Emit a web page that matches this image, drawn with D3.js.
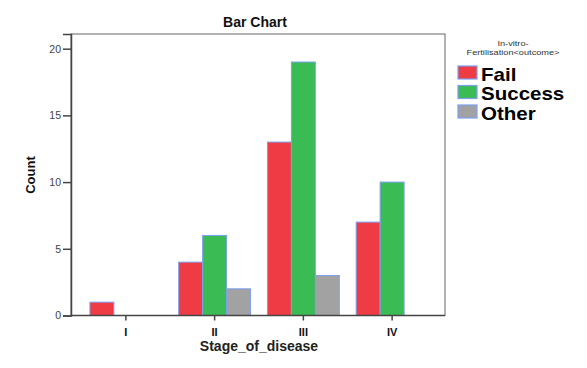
<!DOCTYPE html>
<html>
<head>
<meta charset="utf-8">
<script src="https://cdn.jsdelivr.net/npm/d3@7"></script>
<style>
  body { margin: 0; background: #fff; }
  text { font-family: Arial, "Liberation Sans", sans-serif; }
</style>
</head>
<body>
<svg id="chart" width="587" height="368"></svg>
<script>
// data
const stages = ["I", "II", "III", "IV"];
const outcomes = ["Fail", "Success", "Other"];
const fail = [1, 4, 13, 7];
const success = [0, 6, 19, 10];
const other = [0, 2, 3, 0];
const yTicks = [0, 5, 10, 15, 20];

const colors = {Fail: "#ee3b44", Success: "#3bbb53", Other: "#a2a2a2"};
const outline = "#7d9ff0";

const series = {Fail: fail, Success: success, Other: other};
const rows = stages.map((s, i) => ({
    stage: s,
    values: outcomes.map(o => ({key: o, value: series[o][i]}))
}));

const svg = d3.select("#chart");
const plot = {left: 71, top: 34, right: 445, bottom: 315.5};

const x = d3.scaleBand()
    .domain(stages)
    .range([81.5, 436.5])
    .paddingInner(0.19)
    .paddingOuter(0.095);
const xInner = d3.scaleBand()
    .domain(outcomes)
    .range([0, x.bandwidth()]);
const y = d3.scaleLinear()
    .domain([0, 21.1])
    .range([plot.bottom, plot.top]);

// frame
svg.append("rect")
    .attr("x", plot.left).attr("y", plot.top)
    .attr("width", plot.right - plot.left)
    .attr("height", plot.bottom - plot.top)
    .attr("fill", "none").attr("stroke", "#666").attr("stroke-width", 1);

// bars
const groups = svg.selectAll("g.stage")
    .data(rows)
    .join("g").attr("class", "stage")
    .attr("transform", d => `translate(${x(d.stage)},0)`);

groups.selectAll("rect")
    .data(d => d.values.filter(v => v.value > 0))
    .join("rect")
    .attr("x", d => xInner(d.key))
    .attr("y", d => y(d.value))
    .attr("width", xInner.bandwidth())
    .attr("height", d => y(0) - y(d.value))
    .attr("fill", d => colors[d.key])
    .attr("stroke", outline)
    .attr("stroke-width", 1);

// y axis
const yAxis = svg.append("g")
    .attr("transform", `translate(${plot.left},0)`)
    .call(d3.axisLeft(y).tickValues(yTicks).tickSize(8).tickPadding(2));
yAxis.select(".domain").attr("stroke", "#444").attr("stroke-width", 1.5);
yAxis.selectAll(".tick line").attr("stroke", "#444").attr("stroke-width", 1.5);
yAxis.selectAll(".tick text")
    .attr("fill", "#444").style("font-size", "10.5px");

// x axis
const xAxis = svg.append("g")
    .attr("transform", `translate(0,${plot.bottom})`)
    .call(d3.axisBottom(x).tickSize(5).tickPadding(8));
xAxis.select(".domain").attr("stroke", "#444").attr("stroke-width", 1.5)
    .attr("d", `M${plot.left},0H${plot.right}`);
xAxis.selectAll(".tick line").attr("stroke", "#444").attr("stroke-width", 1.5);
xAxis.selectAll(".tick text")
    .attr("fill", "#111")
    .style("font-size", "11px").style("font-weight", "bold");

// titles
svg.append("text")
    .attr("x", 255).attr("y", 27)
    .attr("text-anchor", "middle")
    .style("font-size", "14px").style("font-weight", "bold")
    .attr("fill", "#111")
    .text("Bar Chart");

svg.append("text")
    .attr("x", 259).attr("y", 351)
    .attr("text-anchor", "middle")
    .style("font-size", "14px").style("font-weight", "bold")
    .attr("fill", "#222")
    .text("Stage_of_disease");

svg.append("text")
    .attr("transform", "translate(35,175) rotate(-90)")
    .attr("text-anchor", "middle")
    .style("font-size", "13px").style("font-weight", "bold")
    .attr("fill", "#111")
    .text("Count");

// legend
const legend = svg.append("g");
legend.append("text")
    .attr("transform", "translate(513,46) scale(1.15,1)")
    .attr("text-anchor", "middle")
    .style("font-size", "8px").attr("fill", "#333")
    .text("In-vitro-");
legend.append("text")
    .attr("transform", "translate(513,55) scale(1.15,1)")
    .attr("text-anchor", "middle")
    .style("font-size", "8px").attr("fill", "#333")
    .text("Fertilisation<outcome>");

const item = legend.selectAll("g.item")
    .data(outcomes)
    .join("g").attr("class", "item")
    .attr("transform", (d, i) => `translate(458,${66 + i * 19.5})`);
item.append("rect")
    .attr("width", 19).attr("height", 13)
    .attr("fill", d => colors[d])
    .attr("stroke", outline).attr("stroke-width", 1.2);
item.append("text")
    .attr("transform", "translate(23,14.5) scale(1.14,1)")
    .style("font-size", "18px").style("font-weight", "bold")
    .attr("fill", "#000")
    .text(d => d);
</script>
</body>
</html>
